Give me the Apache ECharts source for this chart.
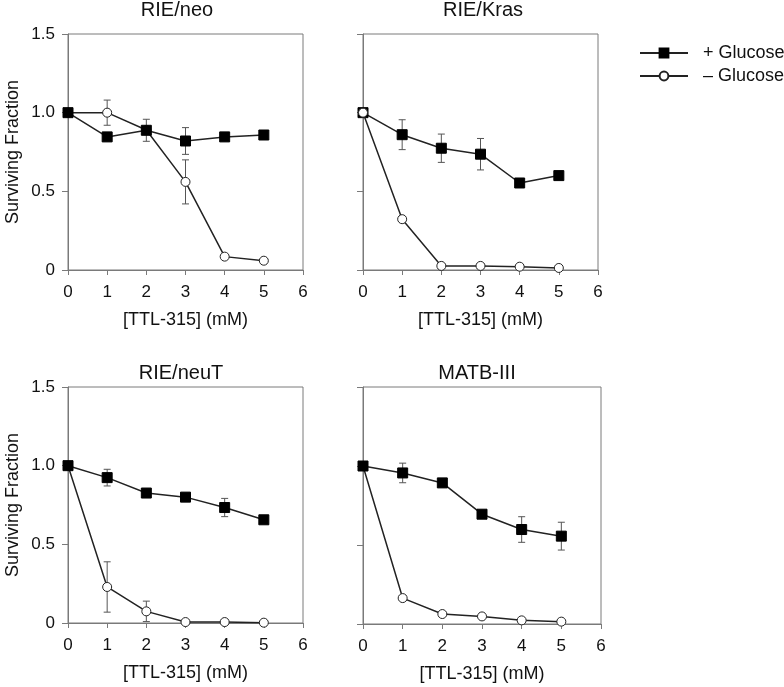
<!DOCTYPE html>
<html><head><meta charset="utf-8">
<script src="https://cdn.jsdelivr.net/npm/echarts@6/dist/echarts.min.js"></script>
<style>html,body{margin:0;padding:0;background:#fff}#c{width:784px;height:687px}</style>
</head><body><div id="c"></div>
<script>
// ---- data ----
const xVals = [0, 1, 2, 3, 4, 5];
const panelTitles = ['RIE/neo', 'RIE/Kras', 'RIE/neuT', 'MATB-III'];
const seriesNames = ['+ Glucose', '\u2013 Glucose'];
const xTickLabels = ['0', '1', '2', '3', '4', '5', '6'];
const yTickLabels = ['0', '0.5', '1.0', '1.5'];
const xAxisName = '[TTL-315] (mM)';
const yAxisName = 'Surviving Fraction';

const neoPlus = [1.0, 0.846, 0.888, 0.820, 0.846, 0.858];
const neoMinus = [1.0, 1.0, 0.89, 0.56, 0.085, 0.059];
const krasPlus = [1.0, 0.860, 0.774, 0.736, 0.553, 0.600];
const krasMinus = [1.0, 0.323, 0.026, 0.026, 0.021, 0.013];
const neuTPlus = [1.0, 0.924, 0.826, 0.800, 0.734, 0.656];
const neuTMinus = [1.0, 0.229, 0.074, 0.006, 0.006, 0.002];
const matbPlus = [1.0, 0.956, 0.893, 0.695, 0.598, 0.556];
const matbMinus = [1.0, 0.164, 0.063, 0.048, 0.023, 0.015];

const neoPlusErr = [0, 0, 0.07, 0.085, 0, 0];
const neoMinusErr = [0, 0.08, 0, 0.14, 0, 0];
const krasPlusErr = [0, 0.095, 0.09, 0.10, 0, 0];
const krasMinusErr = [0, 0, 0, 0, 0, 0];
const neuTPlusErr = [0, 0.053, 0, 0, 0.058, 0];
const neuTMinusErr = [0, 0.16, 0.065, 0, 0, 0];
const matbPlusErr = [0, 0.062, 0, 0, 0.081, 0.088];
const matbMinusErr = [0, 0, 0, 0, 0, 0];

// ---- layout / style ----
const FONT = '"Liberation Sans", Arial, Helvetica, sans-serif';
const grids = [
  {left: 68, top: 34, width: 235, height: 236},
  {left: 363, top: 34, width: 235, height: 236},
  {left: 68, top: 387, width: 235, height: 236},
  {left: 363, top: 387, width: 238, height: 237}
];
const titlePos = [[177, 0], [483, 0], [181, 363], [477, 363]];
const minusOnTop = [false, true, false, false];
const panels = [
  [neoPlus, neoMinus, neoPlusErr, neoMinusErr],
  [krasPlus, krasMinus, krasPlusErr, krasMinusErr],
  [neuTPlus, neuTMinus, neuTPlusErr, neuTMinusErr],
  [matbPlus, matbMinus, matbPlusErr, matbMinusErr]
];
const AXIS = '#7a7a7a';

function errRender(params, api) {
  const x = api.value(0), lo = api.value(1), hi = api.value(2);
  const a = api.coord([x, lo]), b = api.coord([x, hi]);
  const c = 3.5;
  const st = {stroke: '#555', lineWidth: 1};
  return {type: 'group', children: [
    {type: 'line', shape: {x1: a[0], y1: a[1], x2: b[0], y2: b[1]}, style: st},
    {type: 'line', shape: {x1: a[0] - c, y1: a[1], x2: a[0] + c, y2: a[1]}, style: st},
    {type: 'line', shape: {x1: b[0] - c, y1: b[1], x2: b[0] + c, y2: b[1]}, style: st}
  ]};
}

const option = {
  backgroundColor: '#fff',
  animation: false,
  textStyle: {fontFamily: FONT},
  title: panelTitles.map((t, i) => ({
    text: t, left: titlePos[i][0], top: titlePos[i][1], textAlign: 'center', padding: 0,
    textStyle: {fontFamily: FONT, fontSize: 20, fontWeight: 'normal', color: '#111'}
  })),
  legend: {
    data: seriesNames, orient: 'vertical', left: 639, top: 44, padding: 0,
    itemWidth: 48, itemHeight: 11, itemGap: 5,
    textStyle: {fontFamily: FONT, fontSize: 18, color: '#111', padding: [0, 0, 0, 10]}
  },
  grid: grids.map(g => Object.assign({show: true, borderColor: AXIS, borderWidth: 1, backgroundColor: 'transparent'}, g)),
  xAxis: grids.map((g, i) => ({
    type: 'value', gridIndex: i, min: 0, max: 6, interval: 1,
    name: xAxisName, nameLocation: 'middle', nameGap: 41,
    nameTextStyle: {fontFamily: FONT, fontSize: 18, color: '#111'},
    axisLine: {show: true, lineStyle: {color: AXIS, width: 1}},
    axisTick: {show: true, inside: false, length: 5, lineStyle: {color: AXIS}},
    axisLabel: {fontFamily: FONT, fontSize: 17, color: '#111', margin: 14, formatter: v => xTickLabels[Math.round(v)]},
    splitLine: {show: false}
  })),
  yAxis: grids.map((g, i) => ({
    type: 'value', gridIndex: i, min: 0, max: 1.5, interval: 0.5,
    name: (i % 2 === 0) ? yAxisName : '', nameLocation: 'middle', nameGap: 46,
    nameTextStyle: {fontFamily: FONT, fontSize: 18, color: '#111'},
    axisLine: {show: true, lineStyle: {color: AXIS, width: 1}},
    axisTick: {show: true, inside: false, length: 6, lineStyle: {color: AXIS}},
    axisLabel: {show: i % 2 === 0, fontFamily: FONT, fontSize: 17, color: '#111', margin: 13,
      formatter: v => yTickLabels[Math.round(v / 0.5)]},
    splitLine: {show: false}
  })),
  series: []
};

panels.forEach((p, i) => {
  const [plus, minus, plusErr, minusErr] = p;
  const errData = [];
  [[plus, plusErr], [minus, minusErr]].forEach(([vals, errs]) => {
    xVals.forEach((x, k) => { if (errs[k] > 0) errData.push([x, vals[k] - errs[k], vals[k] + errs[k]]); });
  });
  option.series.push({
    type: 'custom', xAxisIndex: i, yAxisIndex: i, renderItem: errRender, data: errData, z: 1, silent: true
  });
  option.series.push({
    name: seriesNames[0], type: 'line', xAxisIndex: i, yAxisIndex: i,
    data: xVals.map((x, k) => [x, plus[k]]),
    symbol: 'rect', symbolSize: 10, showAllSymbol: true,
    lineStyle: {color: '#222', width: 1.5},
    itemStyle: {color: '#000', borderColor: '#000', borderWidth: 1},
    z: minusOnTop[i] ? 2 : 3
  });
  option.series.push({
    name: seriesNames[1], type: 'line', xAxisIndex: i, yAxisIndex: i,
    data: xVals.map((x, k) => [x, minus[k]]),
    symbol: 'circle', symbolSize: 9, showAllSymbol: true,
    lineStyle: {color: '#222', width: 1.5},
    itemStyle: {color: '#fff', borderColor: '#222', borderWidth: 1},
    z: minusOnTop[i] ? 3 : 2
  });
});

const chart = echarts.init(document.getElementById('c'), null, {renderer: 'canvas'});
chart.setOption(option);
</script></body></html>
